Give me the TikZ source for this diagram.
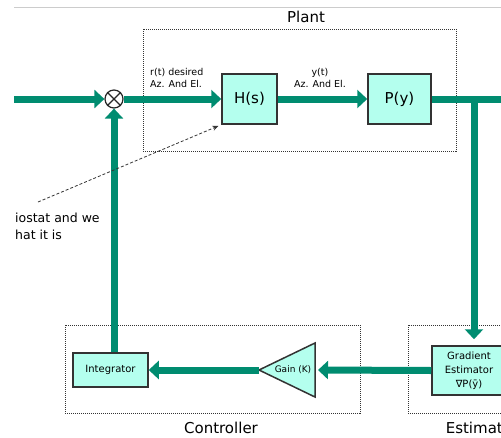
\documentclass[tikz,border=0pt]{standalone}
\usepackage{fontspec}
\setmainfont{DejaVu Sans}
\usetikzlibrary{arrows.meta,calc}

\definecolor{flow}{RGB}{0,140,112}
\definecolor{blockfill}{RGB}{180,255,238}

\begin{document}
\begin{tikzpicture}[x=1pt, y=-1pt,
                    block/.style={draw=black!80, line width=1.5pt, fill=blockfill, inner sep=0pt},
                    group/.style={draw=black!80, densely dotted, line width=1pt, inner sep=0pt},
                    flowline/.style={draw=flow, line width=7pt},
                    flowarrow/.style={flowline, -{Triangle[width=18pt,length=10pt]}},
                    lbl/.style={font=\fontsize{9.5}{12}\selectfont, inner sep=0pt},
                    title/.style={font=\fontsize{15}{17}\selectfont, inner sep=0pt}]

\clip (0,0) rectangle (501,437);
\draw[black!20, line width=0.8pt] (14,7) -- (501,7);

% Groups
\node[group, minimum width=313, minimum height=122] (plant) at (299.5,90) {};
\node[title] (plantLbl) at (306,17) {Plant};
\node[group, minimum width=295, minimum height=88] (ctrl) at (212.5,369) {};
\node[title] (ctrlLbl) at (221,428) {Controller};
\node[group, minimum width=144, minimum height=88] (est) at (480,369) {};
\node[title] (estLbl) at (482,428) {Estimator};

% Blocks
\node[circle, draw=black!85, line width=1.2pt, fill=white, minimum size=18] (sum) at (114,99) {};
\draw[black!85, line width=1.2pt] (sum.north west) -- (sum.south east);
\draw[black!85, line width=1.2pt] (sum.north east) -- (sum.south west);
\node[block, minimum width=55, minimum height=50, font=\fontsize{15}{17}\selectfont] (H) at (249.5,99) {H(s)};
\node[block, minimum width=63, minimum height=50, font=\fontsize{15}{17}\selectfont] (P) at (399.5,99) {P(y)};
\node[block, minimum width=75, minimum height=34, font=\fontsize{10}{12}\selectfont] (integ) at (110.5,370) {Integrator};
\node[block, minimum width=74, minimum height=49, align=center, font=\fontsize{10}{14}\selectfont] (grad) at (469,370.5) {Gradient\\Estimator\\∇P(ȳ)};

% Gain triangle
\coordinate (gainTip) at (259,370);
\coordinate (gainBase) at (315,370);
\draw[block] (gainTip) -- (315,343) -- (315,397) -- cycle;
\node[font=\fontsize{9}{10}\selectfont, inner sep=0pt] (gain) at (293,370) {Gain (K)};

% Flow
\coordinate (inL) at (14,99);
\coordinate (outR) at (510,99);
\coordinate (branch) at (474,99);
\draw[flowarrow] (inL) -- (sum.west);
\draw[flowarrow] (sum.east) -- (H.west);
\draw[flowarrow] (H.east) -- (P.west);
\draw[flowline] (P.east) -- (outR);
\draw[flowarrow, shorten >=6pt] (branch) -- (branch |- grad.north);
\draw[flowarrow, shorten >=3pt] (grad.west) -- (gainBase);
\draw[flowarrow] (gainTip) -- (integ.east);
\draw[flowarrow] (integ.north -| sum) -- (sum.south);

% Labels
\node[lbl, anchor=west, align=left] (rLbl) at (150,78) {r(t) desired\\Az. And El.};
\node[lbl, align=center] (yLbl) at (320,78) {y(t)\\Az. And El.};

% Note
\coordinate (noteStart) at (38,202);
\draw[densely dashed, black!80, line width=0.8pt, -{Stealth[length=6pt,width=5pt]}, shorten >=3pt] (noteStart) -- (H.south west);
\node[anchor=west, align=left, inner sep=0pt, font=\fontsize{12.5}{17}\selectfont] (note) at (15,226) {iostat and we\\hat it is};

\end{tikzpicture}
\end{document}
